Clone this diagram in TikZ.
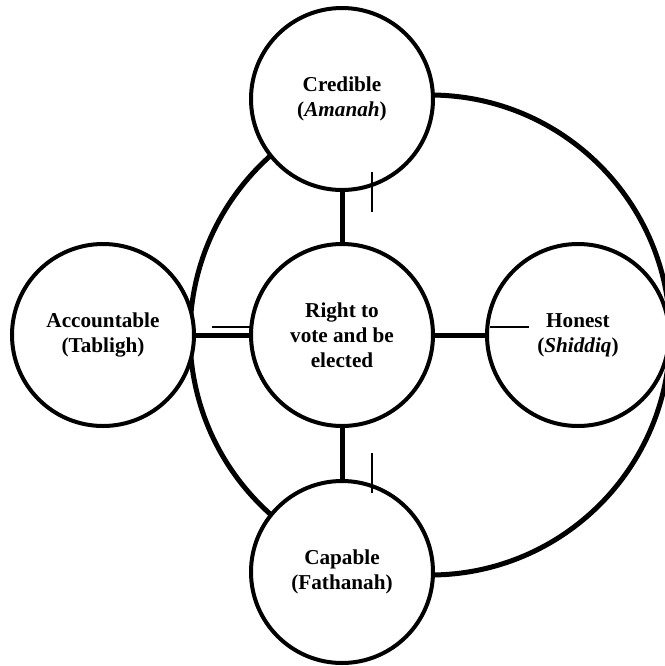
\documentclass[tikz,border=0pt]{standalone}
\usepackage{fontspec}
\setmainfont{Liberation Serif}
\begin{document}
\begin{tikzpicture}[x=0.5pt,y=-0.5pt,
  circ/.style={circle,draw,line width=2pt,fill=white,minimum size=91pt,inner sep=0pt,outer sep=0pt,align=center,
    font=\bfseries\fontsize{10.6}{12.5}\selectfont},
  conn/.style={line width=2.5pt},
  tickline/.style={line width=0.8pt},
  ring/.style={line width=2.5pt}]
\useasboundingbox (0,0) rectangle (665,666);
\clip (0,0) rectangle (665,666);
\draw[ring] (430,335) circle[radius=120pt];
\node[circ] (c) at (342,335) {Right to\\vote and be\\elected};
\node[circ] (t) at (342,99) {Credible\\(\textit{Amanah})};
\node[circ] (b) at (342,572) {Capable\\(Fathanah)};
\node[circ] (l) at (103,335) {Accountable\\(Tabligh)};
\node[circ] (r) at (578,335) {Honest\\(\textit{Shiddiq})};
\draw[conn] (c) -- (t);
\draw[conn] (c) -- (b);
\draw[conn] (c) -- (l);
\draw[conn] (c) -- (r);
\draw[tickline] (372,172) -- (372,212);
\draw[tickline] (372,453) -- (372,493);
\draw[tickline] (212,327) -- (252,327);
\draw[tickline] (490,327) -- (529,327);
\end{tikzpicture}
\end{document}
